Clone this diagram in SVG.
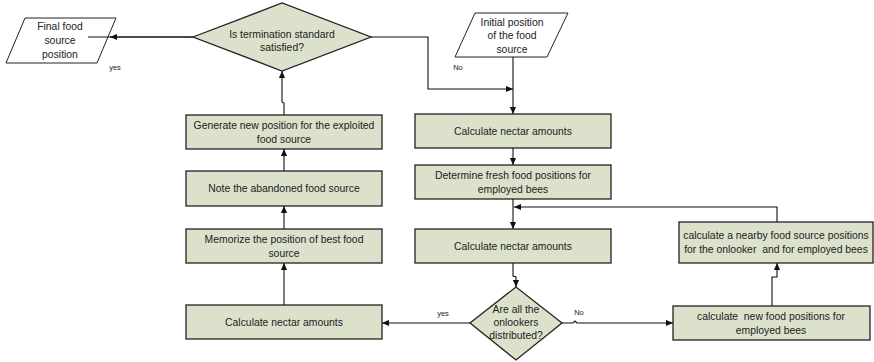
<svg xmlns="http://www.w3.org/2000/svg" width="874" height="362" viewBox="0 0 874 362">
<defs>
<marker id="ah" viewBox="0 0 8 8" refX="8" refY="4" markerWidth="7" markerHeight="7" markerUnits="userSpaceOnUse" orient="auto">
<path d="M0,0.5 L8,4 L0,7.5 Z" fill="#111"/>
</marker>
</defs>
<style>
.box{fill:#dce1cb;stroke:#222;stroke-width:1.3}
.io{fill:#fff;stroke:#222;stroke-width:1}
.t{font-family:"Liberation Sans",Arial,sans-serif;font-size:10.4px;fill:#222;text-anchor:middle;white-space:pre}
.s{font-family:"Liberation Sans",Arial,sans-serif;font-size:7.5px;fill:#222;text-anchor:middle}
.c{fill:none;stroke:#111;stroke-width:1.1;marker-end:url(#ah)}
.l{fill:none;stroke:#111;stroke-width:1.1}
</style>
<rect width="874" height="362" fill="#fff"/>
<g id="final">
<polygon class="io" points="25,18 116,18 97,63 6,63"/>
<text class="t" x="60" y="30">Final food</text>
<text class="t" x="60" y="44">source</text>
<text class="t" x="60" y="58">position</text>
</g>
<g id="term">
<polygon class="box" points="193,37 282,3 371,37 282,71"/>
<text class="t" x="282" y="38">Is termination standard</text>
<text class="t" x="282" y="51">satisfied?</text>
</g>
<g id="initial">
<polygon class="io" points="475,13 568,13 547,57 455,57"/>
<text class="t" x="512" y="26">Initial position</text>
<text class="t" x="512" y="39">of the food</text>
<text class="t" x="512" y="53">source</text>
</g>
<g id="calc1">
<rect class="box" x="415" y="114" width="196" height="34"/>
<text class="t" x="513" y="135">Calculate nectar amounts</text>
</g>
<g id="determine">
<rect class="box" x="415" y="165" width="196" height="34"/>
<text class="t" x="513" y="179">Determine fresh food positions for</text>
<text class="t" x="513" y="193">employed bees</text>
</g>
<g id="calc2">
<rect class="box" x="415" y="229" width="196" height="34"/>
<text class="t" x="513" y="250">Calculate nectar amounts</text>
</g>
<g id="onlookers">
<polygon class="box" points="470,323 516,287 562,323 516,360"/>
<text class="t" x="516" y="313">Are all the</text>
<text class="t" x="516" y="326">onlookers</text>
<text class="t" x="516" y="339">distributed?</text>
</g>
<g id="calc3">
<rect class="box" x="186" y="305" width="196" height="34"/>
<text class="t" x="284" y="326">Calculate nectar amounts</text>
</g>
<g id="memorize">
<rect class="box" x="186" y="229" width="196" height="34"/>
<text class="t" x="284" y="243">Memorize the position of best food</text>
<text class="t" x="284" y="257">source</text>
</g>
<g id="note">
<rect class="box" x="186" y="171" width="196" height="35"/>
<text class="t" x="284" y="192">Note the abandoned food source</text>
</g>
<g id="generate">
<rect class="box" x="186" y="115" width="196" height="34"/>
<text class="t" x="284" y="129">Generate new position for the exploited</text>
<text class="t" x="284" y="143">food source</text>
</g>
<g id="newpos">
<rect class="box" x="673" y="306" width="197" height="34"/>
<text class="t" x="771" y="320">calculate  new food positions for</text>
<text class="t" x="771" y="334">employed bees</text>
</g>
<g id="nearby">
<rect class="box" x="679" y="222" width="194" height="41"/>
<text class="t" x="776" y="239">calculate a nearby food source positions</text>
<text class="t" x="776" y="253">for the onlooker  and for employed bees</text>
</g>
<g id="connectors">
<path class="l" d="M193,37 L88,37"/>
<path class="c" d="M193,37 L110,37"/>
<path class="c" d="M371,37 L428,37 L428,89 L513,89"/>
<path class="c" d="M513,57 L513,114"/>
<path class="c" d="M513,148 L513,165"/>
<path class="c" d="M513,199 L513,229"/>
<path class="c" d="M513,263 L513,276 L516,277 L516,287"/>
<path class="c" d="M470,323 L382,323"/>
<path class="c" d="M562,323 L573,323 L575,321 L577,323 L673,323"/>
<path class="c" d="M772,306 L772,277 L777,277 L777,263"/>
<path class="c" d="M777,222 L777,207 L514,207"/>
<path class="c" d="M284,305 L284,263"/>
<path class="c" d="M284,229 L284,206"/>
<path class="c" d="M284,171 L284,149"/>
<path class="c" d="M284,115 L284,103 L282,102 L282,71"/>
</g>
<text class="s" x="115" y="70">yes</text>
<text class="s" x="458" y="70">No</text>
<text class="s" x="443" y="316">yes</text>
<text class="s" x="579" y="315">No</text>
</svg>
